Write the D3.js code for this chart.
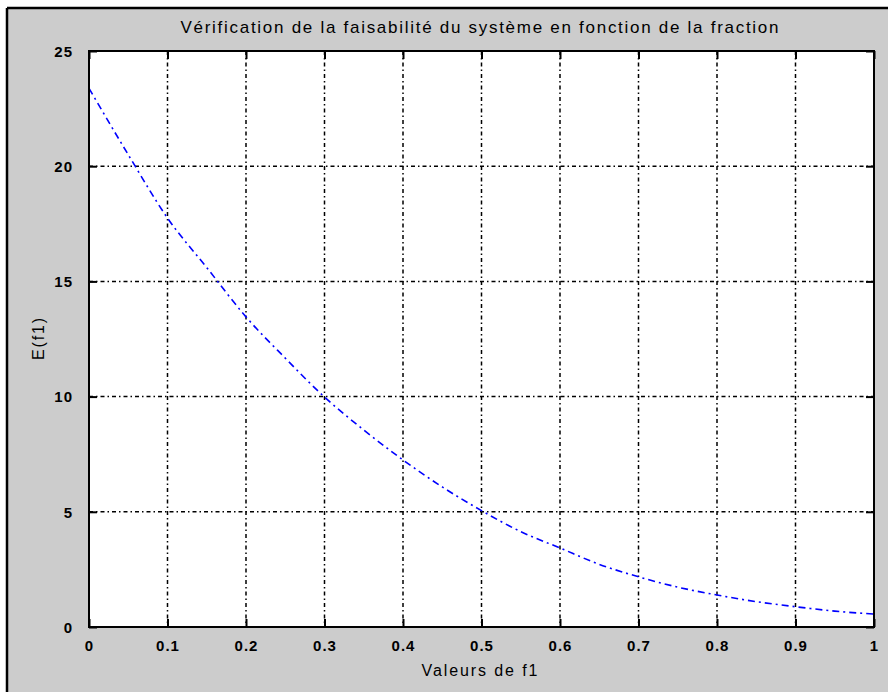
<!DOCTYPE html>
<html>
<head>
<meta charset="utf-8">
<script src="https://cdn.jsdelivr.net/npm/d3@7"></script>
<style>
  body { margin: 0; background: #ffffff; }
  svg text { font-family: "Liberation Sans", Arial, Helvetica, sans-serif; fill: #000; }
</style>
</head>
<body>
<div id="chart"></div>
<script>
// values (f1 -> E(f1))
const f1Values = [0, 0.05, 0.1, 0.15, 0.2, 0.25, 0.3, 0.35, 0.4, 0.45, 0.5,
  0.55, 0.6, 0.65, 0.7, 0.75, 0.8, 0.85, 0.9, 0.95, 1];
const eValues = [23.38, 20.5, 17.75, 15.6, 13.46, 11.67, 9.98, 8.55, 7.25, 6.08, 5.05,
  4.14, 3.43, 2.72, 2.18, 1.73, 1.39, 1.1, 0.88, 0.69, 0.56];
const xTicks = [0, 0.1, 0.2, 0.3, 0.4, 0.5, 0.6, 0.7, 0.8, 0.9, 1];
const yTicks = [0, 5, 10, 15, 20, 25];
const titleText = "Vérification de la faisabilité du système en fonction de la fraction";
const xLabel = "Valeurs de f1";
const yLabel = "E(f1)";

const W = 888, H = 692;
const axes = { left: 89, top: 51, right: 874, bottom: 627 };
const tickLen = 8;

const svg = d3.select("#chart").append("svg")
  .attr("width", W).attr("height", H);

// figure background with the screenshot frame on left and top
svg.append("rect").attr("width", W).attr("height", H).attr("fill", "#ffffff");
svg.append("rect").attr("x", 7).attr("y", 8).attr("width", W - 7).attr("height", H - 8)
  .attr("fill", "#cccccc");
svg.append("line").attr("x1", 7).attr("x2", W).attr("y1", 8).attr("y2", 8)
  .attr("stroke", "#000").attr("stroke-width", 2.5);
svg.append("line").attr("x1", 7).attr("x2", 7).attr("y1", 8).attr("y2", H)
  .attr("stroke", "#000").attr("stroke-width", 2.5);

const x = d3.scaleLinear().domain([0, 1]).range([axes.left, axes.right]);
const y = d3.scaleLinear().domain([0, 25]).range([axes.bottom, axes.top]);

// plot area
svg.append("rect")
  .attr("x", axes.left).attr("y", axes.top)
  .attr("width", axes.right - axes.left).attr("height", axes.bottom - axes.top)
  .attr("fill", "#ffffff");

// grid
const grid = svg.append("g").attr("class", "grid")
  .attr("stroke", "#000").attr("stroke-width", 1.5)
  .attr("stroke-dasharray", "4,3,1.5,3");
grid.selectAll(".vgrid").data(xTicks.slice(1, -1)).enter().append("line")
  .attr("x1", d => x(d)).attr("x2", d => x(d))
  .attr("y1", axes.top).attr("y2", axes.bottom);
grid.selectAll(".hgrid").data(yTicks.slice(1, -1)).enter().append("line")
  .attr("x1", axes.left).attr("x2", axes.right)
  .attr("y1", d => y(d)).attr("y2", d => y(d));

// the curve
const pts = f1Values.map((f, i) => ({ f: f, e: eValues[i] }));
const lineGen = d3.line()
  .x(d => x(d.f))
  .y(d => y(d.e))
  .curve(d3.curveMonotoneX);
svg.append("path")
  .datum(pts)
  .attr("d", lineGen)
  .attr("fill", "none")
  .attr("stroke", "#0000ff")
  .attr("stroke-width", 1.6)
  .attr("stroke-dasharray", "7,4,2,4");

// box
svg.append("rect")
  .attr("x", axes.left).attr("y", axes.top)
  .attr("width", axes.right - axes.left).attr("height", axes.bottom - axes.top)
  .attr("fill", "none").attr("stroke", "#000").attr("stroke-width", 2);

// axes (ticks pointing inward, top/right ticks too)
const xAxisB = svg.append("g")
  .attr("transform", `translate(0,${axes.bottom})`)
  .call(d3.axisBottom(x).tickValues(xTicks).tickSizeInner(-tickLen).tickSizeOuter(0)
    .tickPadding(tickLen + 7).tickFormat(d3.format("")));
const xAxisT = svg.append("g")
  .attr("transform", `translate(0,${axes.top})`)
  .call(d3.axisTop(x).tickValues(xTicks).tickSizeInner(-tickLen).tickSizeOuter(0)
    .tickFormat(""));
const yAxisL = svg.append("g")
  .attr("transform", `translate(${axes.left},0)`)
  .call(d3.axisLeft(y).tickValues(yTicks).tickSizeInner(-tickLen).tickSizeOuter(0)
    .tickPadding(tickLen + 8));
const yAxisR = svg.append("g")
  .attr("transform", `translate(${axes.right},0)`)
  .call(d3.axisRight(y).tickValues(yTicks).tickSizeInner(-tickLen).tickSizeOuter(0)
    .tickFormat(""));

[xAxisB, xAxisT, yAxisL, yAxisR].forEach(g => {
  g.select(".domain").remove();
  g.selectAll(".tick line").attr("stroke", "#000").attr("stroke-width", 2);
  g.selectAll("text")
    .style("font-family", "'Liberation Sans', Arial, sans-serif")
    .style("font-size", "15px")
    .style("font-weight", "bold")
    .style("letter-spacing", "1px")
    .attr("fill", "#111");
});
xAxisB.selectAll("text").attr("dy", "0.6em");
yAxisL.selectAll("text").attr("dy", "0.35em");

// title and labels (the reference type is wide, so stretch to the measured widths)
svg.append("text")
  .attr("x", (axes.left + axes.right) / 2 - 2)
  .attr("y", 33)
  .attr("text-anchor", "middle")
  .attr("textLength", 598)
  .attr("lengthAdjust", "spacing")
  .style("font-size", "17px")
  .text(titleText);

svg.append("text")
  .attr("x", (axes.left + axes.right) / 2 - 2)
  .attr("y", 676)
  .attr("text-anchor", "middle")
  .attr("textLength", 116)
  .attr("lengthAdjust", "spacing")
  .style("font-size", "16px")
  .text(xLabel);

svg.append("text")
  .attr("transform", `translate(44,${(axes.top + axes.bottom) / 2}) rotate(-90)`)
  .attr("text-anchor", "middle")
  .attr("textLength", 42)
  .attr("lengthAdjust", "spacing")
  .style("font-size", "16px")
  .text(yLabel);
</script>
</body>
</html>
